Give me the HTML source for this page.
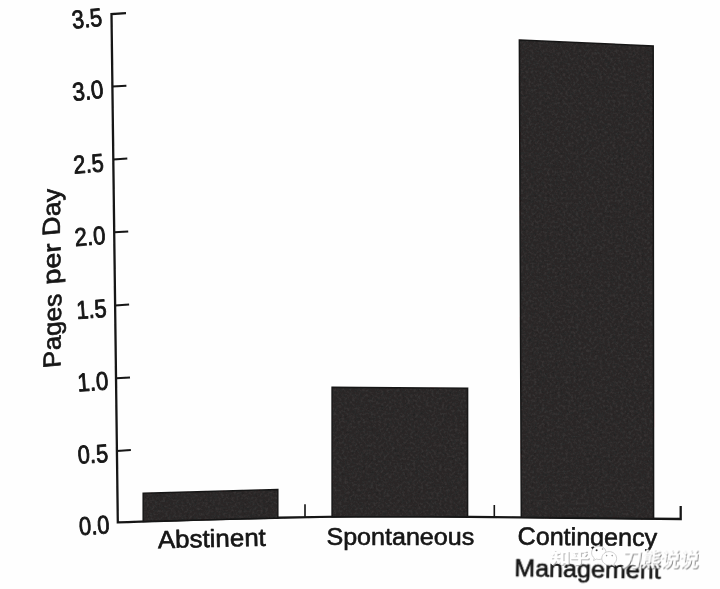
<!DOCTYPE html>
<html lang="en"><head><meta charset="utf-8"><title>Pages per Day</title>
<style>
html,body{margin:0;padding:0;background:#fefefe;}
body{width:720px;height:589px;overflow:hidden;}
svg{display:block;}
text{font-family:"Liberation Sans", "Noto Sans CJK SC", sans-serif;fill:#141414;stroke:#141414;stroke-linejoin:round;}
</style></head><body>
<svg width="720" height="589" viewBox="0 0 720 589">
<defs>
<filter id="grain" x="0" y="0" width="100%" height="100%" color-interpolation-filters="sRGB">
<feTurbulence type="fractalNoise" baseFrequency="0.38" numOctaves="2" seed="7" result="n"/>
<feColorMatrix in="n" type="matrix" values="0 0 0 0 0.27  0 0 0 0 0.25  0 0 0 0 0.25  1.3 0 0 0 -0.56" result="lt"/>
<feColorMatrix in="n" type="matrix" values="0 0 0 0 0.08  0 0 0 0 0.08  0 0 0 0 0.08  0 -1.3 0 0 0.5" result="dk"/>
<feMerge result="m"><feMergeNode in="SourceGraphic"/><feMergeNode in="lt"/><feMergeNode in="dk"/></feMerge>
<feComposite in="m" in2="SourceAlpha" operator="in"/>
</filter>
<filter id="soft"><feGaussianBlur stdDeviation="0.45"/></filter>
<filter id="sh1" x="-10%" y="-30%" width="120%" height="160%"><feOffset in="SourceAlpha" dx="0.9" dy="0.9" result="o"/><feFlood flood-color="#9a9a9a" flood-opacity="0.8"/><feComposite in2="o" operator="in" result="s"/><feMerge><feMergeNode in="s"/><feMergeNode in="SourceGraphic"/></feMerge></filter>
<filter id="sh2" x="-10%" y="-30%" width="120%" height="160%"><feOffset in="SourceAlpha" dx="1.1" dy="1.1" result="o"/><feFlood flood-color="#5e5e5e" flood-opacity="0.85"/><feComposite in2="o" operator="in" result="s"/><feMerge><feMergeNode in="s"/><feMergeNode in="SourceGraphic"/></feMerge></filter>
</defs>
<rect width="720" height="589" fill="#fefefe"/>
<g filter="url(#soft)">

<g fill="none" stroke="#151515" stroke-width="2.3" stroke-linecap="butt" stroke-linejoin="miter">
<path d="M126 13.1 L111.5 14 L117.8 522.3 C200 520, 300 515.5, 420 516.3 S620 518.6, 680.7 519 L680.7 506"/>
<path d="M112.4 86.6 L126.4 85.7" stroke-width="2"/>
<path d="M113.3 159.4 L127.3 158.5" stroke-width="2"/>
<path d="M114.2 232.3 L128.2 231.4" stroke-width="2"/>
<path d="M115.1 305.4 L129.1 304.5" stroke-width="2"/>
<path d="M116.0 378.3 L130.0 377.4" stroke-width="2"/>
<path d="M116.9 450.9 L130.9 450.0" stroke-width="2"/>
<path d="M305 517.5 L305 504.3" stroke-width="1.6"/>
<path d="M494.3 516.8 L494.3 505" stroke-width="1.6"/>
</g>
<g fill="#292727" filter="url(#grain)">
<polygon points="143.2,493.2 277.8,489.4 277.8,518 143.2,521.4"/>
<polygon points="332.1,387.3 467.6,388.2 467.6,516.8 332.1,516.8"/>
<polygon points="519.35,40 653.2,46 653.6,518.8 521.3,517.3"/>
</g>
<g fill="none" stroke="#171616" stroke-width="1.5" stroke-linejoin="miter">
<polygon points="143.2,493.2 277.8,489.4 277.8,518 143.2,521.4"/>
<polygon points="332.1,387.3 467.6,388.2 467.6,516.8 332.1,516.8"/>
<polygon points="519.35,40 653.2,46 653.6,518.8 521.3,517.3"/>
</g>
<text transform="translate(87.85 27.20) rotate(-6.00) scale(0.8550 1)" font-size="25.6" text-anchor="middle" stroke-width="0.85" >3.5</text>
<text transform="translate(88.70 99.30) rotate(-6.00) scale(0.8800 1)" font-size="25.6" text-anchor="middle" stroke-width="0.85" >3.0</text>
<text transform="translate(89.25 172.40) rotate(-4.70) scale(0.8550 1)" font-size="25.6" text-anchor="middle" stroke-width="0.85" >2.5</text>
<text transform="translate(90.60 245.00) rotate(-4.50) scale(0.8700 1)" font-size="25.6" text-anchor="middle" stroke-width="0.85" >2.0</text>
<text transform="translate(92.05 317.90) rotate(-4.00) scale(0.8550 1)" font-size="25.6" text-anchor="middle" stroke-width="0.85" >1.5</text>
<text transform="translate(93.40 390.50) rotate(-4.00) scale(0.8700 1)" font-size="25.6" text-anchor="middle" stroke-width="0.85" >1.0</text>
<text transform="translate(93.40 462.90) rotate(-3.50) scale(0.8550 1)" font-size="25.6" text-anchor="middle" stroke-width="0.85" >0.5</text>
<text transform="translate(94.75 534.30) rotate(-3.70) scale(0.8600 1)" font-size="25.6" text-anchor="middle" stroke-width="0.85" >0.0</text>
<g aria-label="Pages per Day">
<text transform="translate(60.40 367.20) rotate(-89.30) skewX(6) scale(1.0520 1)" font-size="24.8" text-anchor="start" stroke-width="0.6" >Pages</text>
<text transform="translate(60.10 284.00) rotate(-89.30) skewX(6) scale(1.1650 1)" font-size="24.8" text-anchor="start" stroke-width="0.6" >per</text>
<text transform="translate(59.80 235.00) rotate(-89.30) skewX(6) scale(1.0710 1)" font-size="24.8" text-anchor="start" stroke-width="0.6" >Day</text>
</g>
<text transform="translate(158.00 548.20) rotate(-1.30) scale(1.0450 1)" font-size="24.8" text-anchor="start" stroke-width="0.6" >Abstinent</text>
<text transform="translate(326.40 545.00) rotate(0.00) scale(1.0120 1)" font-size="24.8" text-anchor="start" stroke-width="0.6" >Spontaneous</text>
<text transform="translate(517.60 544.60) rotate(0.60) scale(1.0120 1)" font-size="24.8" text-anchor="start" stroke-width="0.6" >Contingency</text>
<text transform="translate(514.20 576.20) rotate(1.00) scale(1.0120 1)" font-size="24.8" text-anchor="start" stroke-width="0.6" >Management</text>
</g>
<g filter="url(#soft)">
<g font-size="15" font-weight="bold" transform="translate(550.4 562.9) scale(1.29 1)" filter="url(#sh1)">
<text x="0" y="0" style="fill:#ffffff;stroke:#ffffff;stroke-width:0.3px">知乎</text>
</g>
<g font-size="19.2" font-weight="500" transform="translate(621.6 566.4) skewX(-7)" filter="url(#sh2)">
<text x="0" y="0" style="fill:#ffffff;stroke:#ffffff;stroke-width:0.5px">刀熊说说</text>
</g>
<g stroke="#bdbdbd" stroke-width="0.7" fill="#fff">
<path d="M598.8 546c-4 0-7.200 3-7.200 6.800 0 2.100 1 4 2.700 5.200l-0.800 2.600 2.900-1.500c0.800 0.200 1.600 0.400 2.400 0.400 4 0 7.200-3 7.200-6.800s-3.200-6.700-7.200-6.700z"/>
<path d="M609.200 551.600c-4.100 0-7.400 3-7.400 6.800s3.300 6.800 7.400 6.800c0.900 0 1.800-0.100 2.600-0.400l2.800 1.500-0.700-2.500c1.700-1.200 2.700-3.200 2.700-5.400 0-3.800-3.300-6.800-7.400-6.800z"/>
</g>
<g fill="#9a9a9a">
<circle cx="596.6" cy="550.2" r="1" fill="#3a3a3a"/><circle cx="602.6" cy="549" r="0.8"/>
<circle cx="606.6" cy="555.6" r="0.8"/><circle cx="612.2" cy="555.6" r="0.8"/>
</g>
</g>

</svg></body></html>
